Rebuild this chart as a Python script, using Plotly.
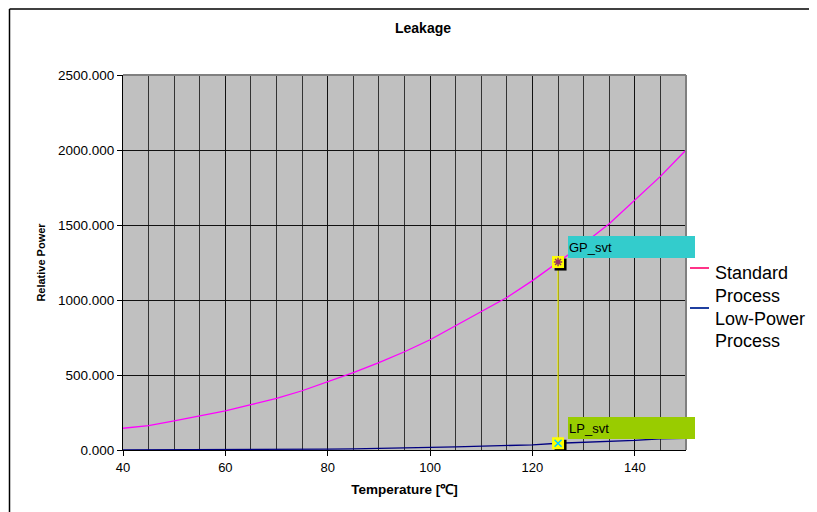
import plotly.graph_objects as go

# ---------------- data ----------------
temperature = [40, 45, 50, 55, 60, 65, 70, 75, 80, 85, 90, 95, 100, 105, 110, 115, 120, 125, 130, 135, 140, 145, 150]
standard_process = [145, 163, 194, 228, 261, 302, 344, 395, 454, 516, 583, 655, 735, 829, 920, 1017, 1129, 1253, 1375, 1508, 1664, 1824, 2000]
low_power_process = [1, 1, 2, 2, 3, 3, 4, 5, 6, 7, 12, 14, 17, 21, 24, 27, 34, 45, 50, 57, 64, 75, 78]
marker_temp = 125
series_names = ["Standard<br>Process", "Low-Power<br>Process"]
marker_labels = ["GP_svt", "LP_svt"]

FONT = "Arial, Liberation Sans, sans-serif"
OX, OY = 8, 8           # page body offset
W, H = 817, 512
L, R, T, B = 123 - OX, 131 + OX, 75 - OY, 62 + OY
PW, PH = W - L - R, H - T - B
XR = [40, 150]
YR = [0, 2500]


def px(xp):
    return (xp - OX - L) / PW


def py(yp):
    return (H - B - (yp - OY)) / PH


idx = temperature.index(marker_temp)
gp_val = standard_process[idx]
lp_val = low_power_process[idx]

fig = go.Figure()
fig.add_trace(go.Scatter(x=temperature, y=standard_process, mode="lines",
                         line=dict(color="#FF00FF", width=1.3), showlegend=False))
fig.add_trace(go.Scatter(x=temperature, y=low_power_process, mode="lines",
                         line=dict(color="#000080", width=1.3), showlegend=False))
# yellow drop line between the two marked points
fig.add_trace(go.Scatter(x=[marker_temp, marker_temp], y=[gp_val, lp_val], mode="lines",
                         line=dict(color="#F0F000", width=1.2), showlegend=False))
# marker shadow (offset right/down)
dx = 2.5 * (XR[1] - XR[0]) / PW
dy = 2.5 * (YR[1] - YR[0]) / PH
fig.add_trace(go.Scatter(x=[marker_temp + dx, marker_temp + dx], y=[gp_val - dy, lp_val - dy], mode="markers",
                         marker=dict(symbol="square", size=12, color="black", line=dict(width=0)),
                         showlegend=False))
fig.add_trace(go.Scatter(x=[marker_temp, marker_temp], y=[gp_val, lp_val], mode="markers",
                         marker=dict(symbol="square", size=12, color="#FFFF00", line=dict(width=0)),
                         showlegend=False))
fig.add_trace(go.Scatter(x=[marker_temp], y=[gp_val], mode="markers",
                         marker=dict(symbol="asterisk-open", size=7, color="#993366",
                                     line=dict(width=1.5, color="#993366")),
                         showlegend=False))
fig.add_trace(go.Scatter(x=[marker_temp], y=[lp_val], mode="markers",
                         marker=dict(symbol="x-thin-open", size=7, color="#00CCFF",
                                     line=dict(width=1.5, color="#00CCFF")),
                         showlegend=False))

annotations = []
for lbl, val, col in [(marker_labels[0], gp_val, "#33CCCC"), (marker_labels[1], lp_val, "#99CC00")]:
    annotations.append(dict(x=marker_temp, y=val, xref="x", yref="y", text=lbl,
                            showarrow=True, arrowcolor="rgba(0,0,0,0)", arrowwidth=0.1,
                            ax=73, ay=-15, axref="pixel", ayref="pixel",
                            width=125, height=20, borderpad=1, borderwidth=0,
                            bgcolor=col, align="left", valign="middle",
                            font=dict(family=FONT, size=13, color="black")))

# manual legend
legend_colors = ["#FF3388", "#1F3FA0"]
legend_line_y = [268, 308]
legend_text_y = [[273, 296], [319, 341]]
shapes = []
for i, name in enumerate(series_names):
    shapes.append(dict(type="line", xref="paper", yref="paper",
                       x0=px(690), x1=px(709), y0=py(legend_line_y[i]), y1=py(legend_line_y[i]),
                       line=dict(color=legend_colors[i], width=2)))
    for j, part in enumerate(name.split("<br>")):
        annotations.append(dict(x=px(713), y=py(legend_text_y[i][j]), xref="paper", yref="paper",
                                xanchor="left", yanchor="middle", showarrow=False, text=part,
                                font=dict(family=FONT, size=18, color="black")))

# plot border top/right (grey)
shapes.append(dict(type="line", xref="paper", yref="paper", x0=0, x1=1, y0=1, y1=1,
                   line=dict(color="#808080", width=2)))
shapes.append(dict(type="line", xref="paper", yref="paper", x0=1, x1=1, y0=0, y1=1,
                   line=dict(color="#808080", width=2)))
# chart outer frame (left and top edges)
shapes.append(dict(type="line", xref="paper", yref="paper", x0=px(9.5), x1=px(840), y0=py(9), y1=py(9),
                   line=dict(color="black", width=1.5), layer="below"))
shapes.append(dict(type="line", xref="paper", yref="paper", x0=px(9.5), x1=px(9.5), y0=py(540), y1=py(9),
                   line=dict(color="black", width=1.5), layer="below"))

fig.update_layout(
    width=W, height=H,
    margin=dict(l=L, r=R, t=T, b=B),
    paper_bgcolor="white",
    plot_bgcolor="#C0C0C0",
    font=dict(family=FONT, color="black"),
    showlegend=False,
    title=dict(text="<b>Leakage</b>", x=(423 - OX) / W, xanchor="center", xref="container",
               y=1 - (28 - OY) / H, yanchor="middle", yref="container",
               font=dict(family=FONT, size=14, color="black")),
    xaxis=dict(range=XR, tick0=40, dtick=20, ticks="outside", ticklen=5, tickcolor="black",
               showline=True, linecolor="black", linewidth=1, zeroline=False,
               showgrid=True, gridcolor="#111111", gridwidth=1,
               minor=dict(dtick=5, tick0=40, showgrid=True, gridcolor="#333333", gridwidth=1, ticks=""),
               tickfont=dict(family=FONT, size=13, color="black"),
               title=dict(text="<b>Temperature [℃]</b>", font=dict(family=FONT, size=13.5, color="black"),
                          standoff=10)),
    yaxis=dict(range=YR, dtick=500, tickformat=".3f", ticks="outside", ticklen=5, tickcolor="black",
               showline=True, linecolor="black", linewidth=1, zeroline=False,
               showgrid=True, gridcolor="#111111", gridwidth=1,
               tickfont=dict(family=FONT, size=13.5, color="black"),
               title=dict(text="<b>Relative Power</b>", font=dict(family=FONT, size=11, color="black"),
                          standoff=10)),
    annotations=annotations,
    shapes=shapes,
)

fig.write_html("out.html")
